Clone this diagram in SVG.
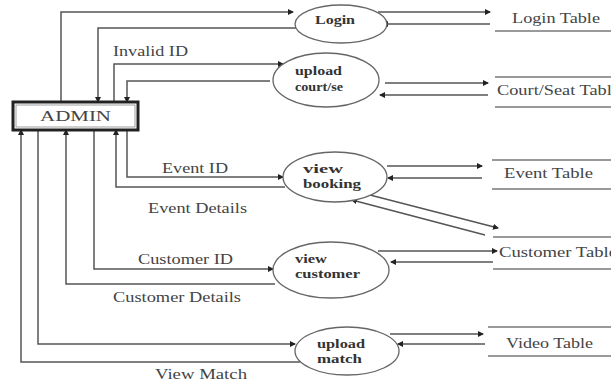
<svg xmlns="http://www.w3.org/2000/svg" width="611" height="383" viewBox="0 0 611 383">
<style>
.c{fill:none;stroke:#555;stroke-width:1.5}
.t{font-family:"Liberation Serif",serif;fill:#444;font-size:14px}
.p{font-family:"Liberation Serif",serif;fill:#333;font-size:12px;font-weight:bold}
.e{fill:#fff;stroke:#666;stroke-width:1.3}
.tb{stroke:#777;stroke-width:1.5}
</style>
<defs>
<marker id="a" markerWidth="6" markerHeight="6" refX="5" refY="3" orient="auto" markerUnits="userSpaceOnUse">
<path d="M0,0 L6,3 L0,6 z" fill="#222"/>
</marker>
</defs>
<rect width="611" height="383" fill="#fff"/>
<g id="connectors">
<path class="c" d="M61,102 V12 H293" marker-end="url(#a)"/>
<path class="c" d="M300,28 H98 V102" marker-end="url(#a)"/>
<path class="c" d="M114,102 V64 H283" marker-end="url(#a)"/>
<path class="c" d="M270,81 H127 V102" marker-end="url(#a)"/>
<path class="c" d="M127,130 V177 H283" marker-end="url(#a)"/>
<path class="c" d="M285,187 H116 V130" marker-end="url(#a)"/>
<path class="c" d="M94,130 V269 H273" marker-end="url(#a)"/>
<path class="c" d="M275,284 H66 V130" marker-end="url(#a)"/>
<path class="c" d="M38,130 V344 H295" marker-end="url(#a)"/>
<path class="c" d="M300,362 H21 V130" marker-end="url(#a)"/>
<path class="c" d="M378,12 H490" marker-end="url(#a)"/>
<path class="c" d="M490,24 H383" marker-end="url(#a)"/>
<path class="c" d="M385,83 H488" marker-end="url(#a)"/>
<path class="c" d="M488,95 H380" marker-end="url(#a)"/>
<path class="c" d="M387,166 H482" marker-end="url(#a)"/>
<path class="c" d="M482,178 H388" marker-end="url(#a)"/>
<path class="c" d="M370,195 L498,228" marker-end="url(#a)"/>
<path class="c" d="M485,235 L352,200" marker-end="url(#a)"/>
<path class="c" d="M378,251 H497" marker-end="url(#a)"/>
<path class="c" d="M493,262 H391" marker-end="url(#a)"/>
<path class="c" d="M390,334 H483" marker-end="url(#a)"/>
<path class="c" d="M485,344 H398" marker-end="url(#a)"/>
<text class="t" x="113" y="56" textLength="75" lengthAdjust="spacingAndGlyphs">Invalid ID</text>
<text class="t" x="162" y="173" textLength="66" lengthAdjust="spacingAndGlyphs">Event ID</text>
<text class="t" x="148" y="213" textLength="99" lengthAdjust="spacingAndGlyphs">Event Details</text>
<text class="t" x="138" y="264" textLength="95" lengthAdjust="spacingAndGlyphs">Customer ID</text>
<text class="t" x="113" y="302" textLength="128" lengthAdjust="spacingAndGlyphs">Customer Details</text>
<text class="t" x="155" y="379" textLength="92" lengthAdjust="spacingAndGlyphs">View Match</text>
</g>
<g id="admin">
<rect x="13" y="102" width="125" height="28" fill="#fff" stroke="#222" stroke-width="3"/>
<rect x="16" y="105" width="119" height="22" fill="none" stroke="#888" stroke-width="0.8"/>
<text class="t" x="40" y="121" textLength="71" lengthAdjust="spacingAndGlyphs">ADMIN</text>
</g>
<g id="login">
<ellipse class="e" cx="341" cy="24" rx="46" ry="19"/>
<text class="p" x="315" y="24" textLength="40" lengthAdjust="spacingAndGlyphs">Login</text>
</g>
<g id="upload-court">
<ellipse class="e" cx="326" cy="80" rx="53" ry="27"/>
<text class="p" x="295" y="75" textLength="47" lengthAdjust="spacingAndGlyphs">upload</text>
<text class="p" x="295" y="91" textLength="48" lengthAdjust="spacingAndGlyphs">court/se</text>
</g>
<g id="view-booking">
<ellipse class="e" cx="335" cy="177" rx="52" ry="25"/>
<text class="p" x="303" y="173" textLength="40" lengthAdjust="spacingAndGlyphs">view</text>
<text class="p" x="303" y="188" textLength="58" lengthAdjust="spacingAndGlyphs">booking</text>
</g>
<g id="view-customer">
<ellipse class="e" cx="331" cy="270" rx="58" ry="28"/>
<text class="p" x="295" y="263" textLength="32" lengthAdjust="spacingAndGlyphs">view</text>
<text class="p" x="295" y="278" textLength="65" lengthAdjust="spacingAndGlyphs">customer</text>
</g>
<g id="upload-match">
<ellipse class="e" cx="347" cy="351" rx="52" ry="24"/>
<text class="p" x="317" y="348" textLength="48" lengthAdjust="spacingAndGlyphs">upload</text>
<text class="p" x="317" y="363" textLength="45" lengthAdjust="spacingAndGlyphs">match</text>
</g>
<g id="login-table">
<line class="tb" x1="495" y1="31" x2="611" y2="31"/>
<text class="t" x="512" y="23" textLength="88" lengthAdjust="spacingAndGlyphs">Login Table</text>
</g>
<g id="court-table">
<line class="tb" x1="495" y1="77" x2="611" y2="77"/>
<line class="tb" x1="495" y1="107" x2="611" y2="107"/>
<text class="t" x="497" y="95" textLength="123" lengthAdjust="spacingAndGlyphs">Court/Seat  Table</text>
</g>
<g id="event-table">
<line class="tb" x1="492" y1="160" x2="611" y2="160"/>
<line class="tb" x1="492" y1="189" x2="611" y2="189"/>
<text class="t" x="504" y="178" textLength="89" lengthAdjust="spacingAndGlyphs">Event Table</text>
</g>
<g id="customer-table">
<line class="tb" x1="493" y1="237" x2="611" y2="237"/>
<line class="tb" x1="493" y1="269" x2="611" y2="269"/>
<text class="t" x="499" y="257" textLength="118" lengthAdjust="spacingAndGlyphs">Customer Table</text>
</g>
<g id="video-table">
<line class="tb" x1="488" y1="327" x2="611" y2="327"/>
<line class="tb" x1="488" y1="356" x2="611" y2="356"/>
<text class="t" x="506" y="348" textLength="87" lengthAdjust="spacingAndGlyphs">Video Table</text>
</g>
</svg>
